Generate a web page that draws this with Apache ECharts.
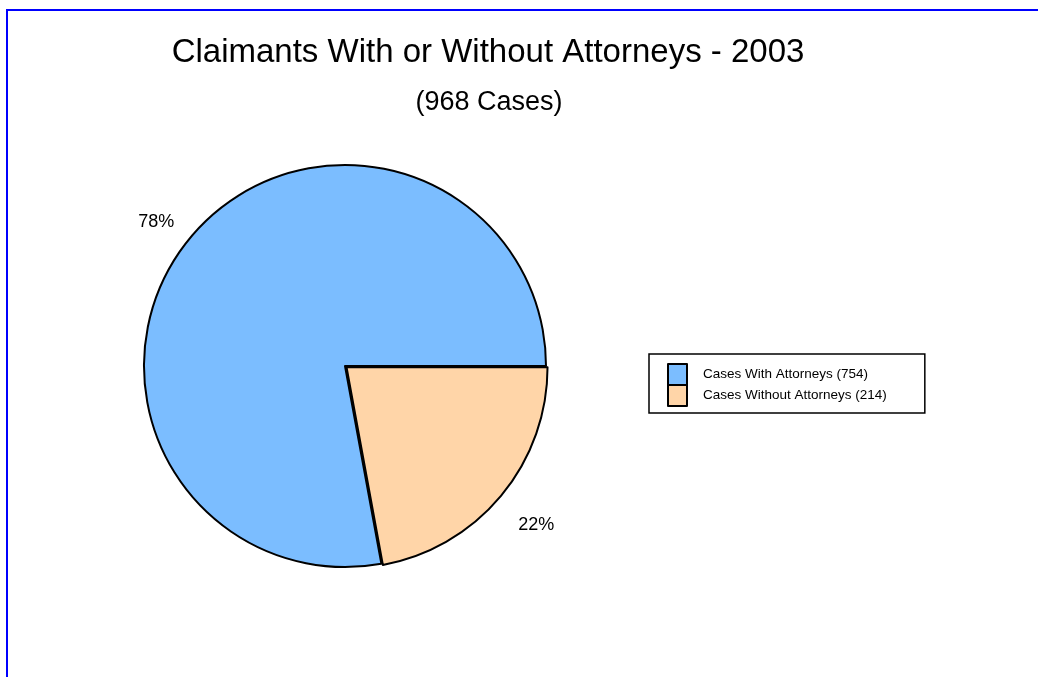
<!DOCTYPE html>
<html>
<head>
<meta charset="utf-8">
<script src="https://cdn.jsdelivr.net/npm/echarts@6/dist/echarts.min.js"></script>
<style>
  html, body { margin: 0; padding: 0; background: #fff; overflow: hidden; }
  #frame { position: absolute; left: 6px; top: 9px; width: 1100px; height: 700px;
           border-left: 2px solid #0000ff; border-top: 2px solid #0000ff; }
  #chart { position: absolute; left: 0; top: 0; width: 1038px; height: 677px; }
</style>
</head>
<body>
<div id="frame"></div>
<div id="chart"></div>
<script>
var categories = ['Cases With Attorneys (754)', 'Cases Without Attorneys (214)'];
var caseCounts = [754, 214];
var sliceColors = ['#7bbdff', '#ffd5a8'];
// small nudges so the percentage labels sit where the original put them
var labelShift = [[1, -5], [0, 19]];

var total = caseCounts.reduce(function (a, b) { return a + b; }, 0);

var myChart = echarts.init(document.getElementById('chart'));

var option = {
  animation: false,
  title: [
    {
      text: 'Claimants With or Without Attorneys - 2003',
      left: 483, top: 31, textAlign: 'center',
      textStyle: { fontFamily: 'Liberation Sans', fontSize: 33, fontWeight: 'normal', color: '#000' }
    },
    {
      text: '(' + total + ' Cases)',
      left: 484, top: 84, textAlign: 'center',
      textStyle: { fontFamily: 'Liberation Sans', fontSize: 27, fontWeight: 'normal', color: '#000' }
    }
  ],
  legend: {
    orient: 'vertical',
    left: 649, top: 354,
    padding: [9, 38, 6, 18],
    itemWidth: 19, itemHeight: 21,
    itemGap: -2,
    borderColor: '#000', borderWidth: 1.5,
    icon: 'rect',
    itemStyle: { borderColor: '#000', borderWidth: 2 },
    data: categories,
    textStyle: { fontFamily: 'Liberation Sans', fontSize: 13.5, color: '#000', padding: [0, 0, 0, 11] }
  },
  series: [{
    type: 'pie',
    center: [345, 366],
    radius: [0, 201],
    startAngle: -(caseCounts[1] / total) * 360,
    clockwise: true,
    avoidLabelOverlap: false,
    selectedMode: 'single',
    selectedOffset: 2,
    itemStyle: { borderColor: '#000', borderWidth: 2 },
    label: {
      show: true,
      position: 'outside',
      formatter: function (p) { return Math.round(p.percent) + '%'; },
      fontFamily: 'Liberation Sans', fontSize: 18, color: '#000'
    },
    labelLine: { show: false, length: 16, length2: 0 },
    labelLayout: function (p) {
      var s = labelShift[p.dataIndex];
      return { dx: s[0], dy: s[1] };
    },
    data: categories.map(function (name, i) {
      return { name: name, value: caseCounts[i], selected: i === 1, itemStyle: { color: sliceColors[i] } };
    })
  }]
};

myChart.setOption(option);
</script>
</body>
</html>
